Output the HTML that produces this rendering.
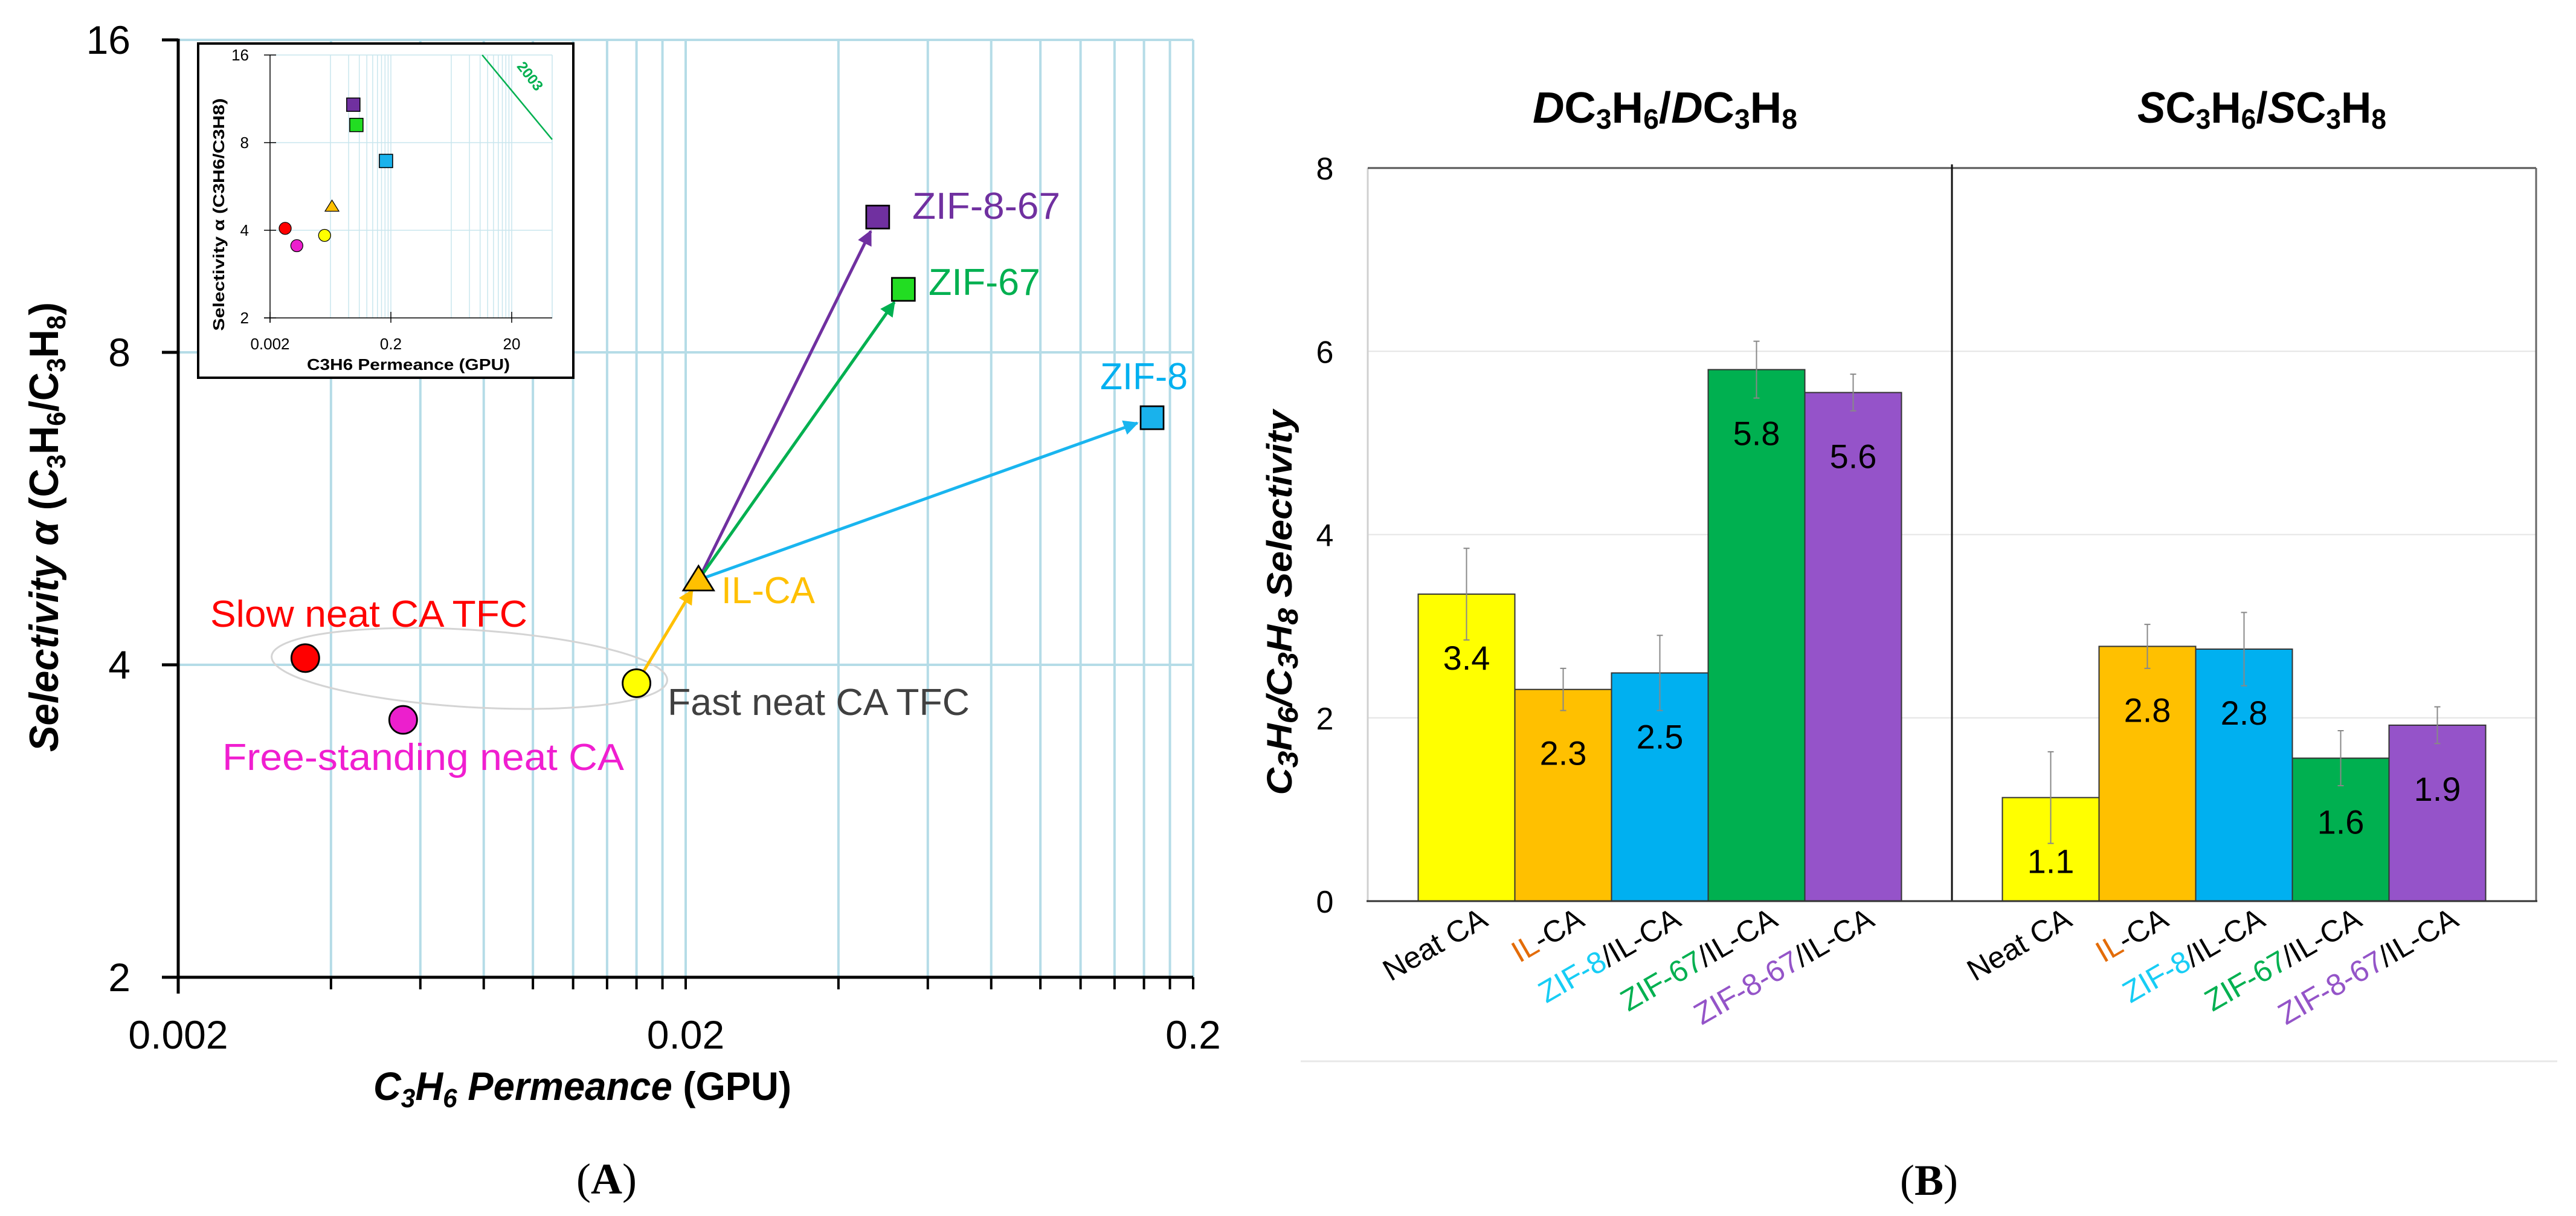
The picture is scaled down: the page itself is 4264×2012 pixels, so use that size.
<!DOCTYPE html>
<html><head><meta charset="utf-8"><style>
html,body{margin:0;padding:0;background:#fff;}
svg{display:block;font-family:"Liberation Sans",sans-serif;}
</style></head><body>
<svg id="fig" width="4264" height="2012" viewBox="0 0 4264 2012" xmlns="http://www.w3.org/2000/svg">
<g id="panelA"></g>
<g id="panelB"></g>
</svg>
<script>
// ---------- Panel A data ----------
const pointNames = ["Slow neat CA TFC","Free-standing neat CA","Fast neat CA TFC","IL-CA","ZIF-8-67","ZIF-67","ZIF-8"];
const permeance = [0.00356, 0.00555, 0.0160, 0.0212, 0.0478, 0.0537, 0.166];
const selectivity = [4.06, 3.54, 3.84, 4.83, 10.8, 9.2, 6.92];
const xTickLabels = ["0.002","0.02","0.2"];
const yTickLabels = ["2","4","8","16"];
const insetXTickLabels = ["0.002","0.2","20"];
const upperBoundX = [6.5, 93.5];
const upperBoundY = [16, 8.2];
// ---------- Panel B data ----------
const barCategories = ["Neat CA","IL-CA","ZIF-8/IL-CA","ZIF-67/IL-CA","ZIF-8-67/IL-CA"];
const groupTitles = ["D","S"];
const diffSelectivity = [3.35, 2.31, 2.49, 5.80, 5.55];
const diffError = [0.50, 0.23, 0.41, 0.31, 0.20];
const diffLabels = ["3.4","2.3","2.5","5.8","5.6"];
const solSelectivity = [1.13, 2.78, 2.75, 1.56, 1.92];
const solError = [0.50, 0.24, 0.40, 0.30, 0.20];
const solLabels = ["1.1","2.8","2.8","1.6","1.9"];
const barYTicks = [0,2,4,6,8];

const NS="http://www.w3.org/2000/svg";
function mk(tag, attrs, parent){const e=document.createElementNS(NS,tag);for(const k in attrs)e.setAttribute(k,attrs[k]);parent.appendChild(e);return e;}

// ===== Panel A =====
const A=document.getElementById('panelA');
const AX0=295, AX1=1975, AY0=1617, AY1=66;
const xA=v=>AX0+(Math.log10(v)-Math.log10(0.002))/2*(AX1-AX0);
const yA=v=>AY0-(Math.log2(v)-1)/3*(AY0-AY1);
const grid=mk('g',{},A);


[0.002,0.02].forEach(base=>{for(let k=2;k<=10;k++){const x=xA(base*k);
  mk('line',{x1:x,y1:AY1,x2:x,y2:AY0,stroke:'#b5dce7','stroke-width':4},grid);
  mk('line',{x1:x,y1:AY0,x2:x,y2:AY0+20,stroke:'#000','stroke-width':4},A);}});
[4,8,16].forEach(v=>{const y=yA(v);mk('line',{x1:AX0,y1:y,x2:AX1,y2:y,stroke:'#b5dce7','stroke-width':4},grid);
  mk('line',{x1:AX0-27,y1:y,x2:AX0,y2:y,stroke:'#000','stroke-width':5},A);});
const axA=mk('g',{},A);


mk('line',{x1:AX0,y1:AY1-2,x2:AX0,y2:AY0+27,stroke:'#000','stroke-width':5},axA);
mk('line',{x1:AX0-27,y1:AY0,x2:AX1,y2:AY0,stroke:'#000','stroke-width':5},axA);
xTickLabels.forEach((t,i)=>{const e=mk('text',{x:xA(0.002*Math.pow(10,i)),y:1735,'font-size':66,'text-anchor':'middle'},A);e.textContent=t;
  
  });
yTickLabels.forEach((t,i)=>{const e=mk('text',{x:216,y:yA(2*Math.pow(2,i))+23,'font-size':66,'text-anchor':'end'},A);e.textContent=t;
  
  });

// ellipse
const ell=mk('ellipse',{cx:777,cy:1106,rx:328,ry:64,fill:'none',stroke:'#d4d4d4','stroke-width':3,transform:'rotate(3.5 777 1106)'},A);



// arrows
const defs=mk('defs',{},A);
const arrowCols=['#ffc000','#7030a0','#00b050','#19b5ef'];
arrowCols.forEach((c,i)=>{const m=mk('marker',{id:'ah'+i,viewBox:'0 0 10 10',refX:9,refY:5,markerWidth:5,markerHeight:5,orient:'auto'},defs);mk('path',{d:'M0,0 L10,5 L0,10 z',fill:c},m);});
const arrowPairs=[[2,3,0],[3,4,1],[3,5,2],[3,6,3]];
arrowPairs.forEach(([f,t,c])=>{let x1=xA(permeance[f]),y1=yA(selectivity[f]),x2=xA(permeance[t]),y2=yA(selectivity[t]);
  const dx=x2-x1,dy=y2-y1,L=Math.hypot(dx,dy);const s0=(f===3?8:24)/L, s1=(t===3?20:26)/L;
  const a=mk('line',{x1:x1+dx*s0,y1:y1+dy*s0,x2:x2-dx*s1,y2:y2-dy*s1,stroke:arrowCols[c],'stroke-width':5,'marker-end':'url(#ah'+c+')'},A);
  
  });

const fills=['#ff0000','#ec1fcd','#ffff00','#ffc000','#7030a0','#22dd22','#19b2ec'];
const shapes=['c','c','c','t','s','s','s'];
function marker(i,x,y,r,parent,name){let e;
  if(shapes[i]==='c')e=mk('circle',{cx:x,cy:y,r:r,fill:fills[i],stroke:'#000','stroke-width':r/8},parent);
  else if(shapes[i]==='s')e=mk('rect',{x:x-r,y:y-r,width:2*r,height:2*r,fill:fills[i],stroke:'#000','stroke-width':r/7},parent);
  else e=mk('polygon',{points:`${x},${y-r*1.05} ${x+r*1.15},${y+r*0.8} ${x-r*1.15},${y+r*0.8}`,fill:fills[i],stroke:'#000','stroke-width':r/8},parent);
  
  }
pointNames.forEach((n,i)=>marker(i,xA(permeance[i]),yA(selectivity[i]),shapes[i]==='s'?19:(shapes[i]==='t'?22:23),A,'point-'+n.toLowerCase().replace(/[^a-z0-9]+/g,'-')));

const ptLabels=[["Slow neat CA TFC",348,1037,'#ff0000',525],["Free-standing neat CA",368,1274,'#f01ed0',665],["Fast neat CA TFC",1105,1183,'#404040',500],["IL-CA",1194,998,'#ffc000',155],["ZIF-8-67",1510,362,'#7030a0',245],["ZIF-67",1537,488,'#00b050',185],["ZIF-8",1821,644,'#00b0f0',145]];
ptLabels.forEach(l=>{const e=mk('text',{x:l[1],y:l[2],'font-size':62,fill:l[3],textLength:l[4],lengthAdjust:'spacingAndGlyphs'},A);e.textContent=l[0];
  
  });

// axis titles A
const yt=mk('text',{x:0,y:0,'font-size':68,'font-weight':'bold','font-style':'italic','text-anchor':'middle',transform:'translate(96 872) rotate(-90)',textLength:744,lengthAdjust:'spacingAndGlyphs'},A);
yt.innerHTML='Selectivity α <tspan font-style="normal">(C<tspan font-size="44" dy="12">3</tspan><tspan dy="-12">H</tspan><tspan font-size="44" dy="12">6</tspan><tspan dy="-12">/C</tspan><tspan font-size="44" dy="12">3</tspan><tspan dy="-12">H</tspan><tspan font-size="44" dy="12">8</tspan><tspan dy="-12">)</tspan></tspan>';


const xt=mk('text',{x:964,y:1820,'font-size':66,'font-weight':'bold','text-anchor':'middle',textLength:692,lengthAdjust:'spacingAndGlyphs'},A);
xt.innerHTML='<tspan font-style="italic">C<tspan font-size="44" dy="12">3</tspan><tspan dy="-12">H</tspan><tspan font-size="44" dy="12">6</tspan><tspan dy="-12"> Permeance</tspan></tspan> (GPU)';


const la=mk('text',{x:1004,y:1975,'font-size':72,'font-family':'Liberation Serif, serif','text-anchor':'middle'},A);
la.innerHTML='(<tspan font-weight="bold">A</tspan>)';



// inset
const I=mk('g',{},A);


mk('rect',{x:328,y:72,width:621,height:553,fill:'#fff',stroke:'#000','stroke-width':4},I);
const IX0=447,IX1=914,IY0=526,IY1=91,IDEC=100;
const xI=v=>IX0+(Math.log10(v)-Math.log10(0.002))*IDEC;
const yI=v=>IY0-(Math.log2(v)-1)/3*(IY0-IY1);
[0.02,2].forEach(base=>{for(let k=1;k<=10;k++){const x=xI(base*k);if(x>IX1+1)continue;mk('line',{x1:x,y1:IY1,x2:x,y2:IY0,stroke:'#c9e6ee','stroke-width':1.5},I);}});
[0.002,0.2,20].forEach(v=>{const x=xI(v);mk('line',{x1:x,y1:IY0-10,x2:x,y2:IY0+8,stroke:'#000','stroke-width':1.5},I);});
mk('line',{x1:IX1,y1:IY1,x2:IX1,y2:IY0,stroke:'#c9e6ee','stroke-width':1.5},I);
[4,8,16].forEach(v=>mk('line',{x1:IX0,y1:yI(v),x2:IX1,y2:yI(v),stroke:'#c9e6ee','stroke-width':1.5},I));
[2,4,8,16].forEach(v=>mk('line',{x1:IX0-10,y1:yI(v),x2:IX0+10,y2:yI(v),stroke:'#000','stroke-width':1.5},I));
mk('line',{x1:IX0,y1:IY1,x2:IX0,y2:IY0+8,stroke:'#000','stroke-width':1.5},I);
mk('line',{x1:IX0-10,y1:IY0,x2:IX1,y2:IY0,stroke:'#000','stroke-width':1.5},I);
insetXTickLabels.forEach((t,i)=>{const e=mk('text',{x:xI(0.002*Math.pow(100,i)),y:578,'font-size':26,'text-anchor':'middle'},I);e.textContent=t;
  
  });
yTickLabels.forEach((t,i)=>{const e=mk('text',{x:412,y:yI(2*Math.pow(2,i))+9,'font-size':26,'text-anchor':'end'},I);e.textContent=t;
  
  });
const ub=mk('line',{x1:xI(upperBoundX[0]),y1:yI(upperBoundY[0]),x2:xI(upperBoundX[1]),y2:yI(upperBoundY[1]),stroke:'#00b050','stroke-width':2.5},I);


const ubt=mk('text',{x:0,y:0,'font-size':24,'font-weight':'bold',fill:'#00b050','text-anchor':'middle',transform:'translate(871 131) rotate(52)'},I);ubt.textContent='2003';


pointNames.forEach((n,i)=>marker(i,xI(permeance[i]),yI(selectivity[i]),shapes[i]==='s'?11:10,I,'inset-point-'+n.toLowerCase().replace(/[^a-z0-9]+/g,'-')));
const ixt=mk('text',{x:676,y:612,'font-size':26,'font-weight':'bold','text-anchor':'middle',textLength:336,lengthAdjust:'spacingAndGlyphs'},I);ixt.textContent='C3H6 Permeance (GPU)';


const iyt=mk('text',{x:0,y:0,'font-size':26,'font-weight':'bold','text-anchor':'middle',transform:'translate(371 355) rotate(-90)',textLength:385,lengthAdjust:'spacingAndGlyphs'},I);iyt.textContent='Selectivity α (C3H6/C3H8)';



// ===== Panel B =====
const B=document.getElementById('panelB');
const BX0=2264,BX1=4198,BY0=1491,BY1=278;
const yB=v=>BY0-v/8*(BY0-BY1);
const GW=(BX1-BX0)/2, BW=160, GPAD=(GW-BW*barCategories.length)/2;
const xB=(g,i)=>BX0+g*GW+GPAD+i*BW;
barYTicks.forEach(v=>{const y=yB(v);
  if(v>0&&v<8)mk('line',{x1:BX0,y1:y,x2:BX1,y2:y,stroke:'#e4e4e4','stroke-width':2},B);
  const e=mk('text',{x:2193,y:y+19,'font-size':52,'text-anchor':'middle'},B);e.textContent=v;
  
  });
mk('line',{x1:BX0,y1:BY1,x2:BX0,y2:BY0,stroke:'#d0d0d0','stroke-width':3},B);
mk('line',{x1:BX0,y1:BY1,x2:BX1,y2:BY1,stroke:'#555','stroke-width':3},B);
mk('line',{x1:BX1,y1:BY1,x2:BX1,y2:BY0,stroke:'#666','stroke-width':3},B);
const div=mk('line',{x1:BX0+GW,y1:BY1-6,x2:BX0+GW,y2:BY0,stroke:'#111','stroke-width':3},B);


const barCols=['#ffff00','#ffc000','#00b0f0','#00b050','#9553c9'];
const groups=[[diffSelectivity,diffError,diffLabels],[solSelectivity,solError,solLabels]];
const catParts=[[['Neat CA','#000']],[['IL','#e36c09'],['-CA','#000']],[['ZIF-8','#17cdf5'],['/IL-CA','#000']],[['ZIF-67','#00b050'],['/IL-CA','#000']],[['ZIF-8-67','#9454c8'],['/IL-CA','#000']]];
groups.forEach((gd,g)=>{gd[0].forEach((v,i)=>{const x=xB(g,i),y=yB(v);
  const r=mk('rect',{x:x,y:y,width:BW,height:BY0-y,fill:barCols[i],stroke:'#333','stroke-width':2},B);
  
  
  const cx=x+BW/2,e1=yB(v+gd[1][i]),e2=yB(v-gd[1][i]);
  const eb=mk('path',{d:`M${cx},${e1}V${e2}M${cx-5},${e1}H${cx+5}M${cx-5},${e2}H${cx+5}`,stroke:'#888','stroke-width':2,fill:'none'},B);
  
  
  const t=mk('text',{x:cx,y:y+125,'font-size':56,'text-anchor':'middle'},B);t.textContent=gd[2][i];
  
  
  const ct=mk('text',{x:0,y:0,'font-size':50,'text-anchor':'end',transform:`translate(${cx+38} 1530) rotate(-30)`},B);
  catParts[i].forEach(p=>{const s=mk('tspan',{fill:p[1]},ct);s.textContent=p[0];});
  
  
 });});
mk('line',{x1:BX0-2,y1:BY0,x2:BX1+2,y2:BY0,stroke:'#333','stroke-width':3},B);
const sub=(a)=>`<tspan font-size="46" dy="10">${a}</tspan><tspan dy="-10">`;
groupTitles.forEach((L,g)=>{const t=mk('text',{x:g?3744:2756,y:203,'font-size':72,'font-weight':'bold','text-anchor':'middle',textLength:g?412:438,lengthAdjust:'spacingAndGlyphs'},B);
  t.innerHTML=`<tspan font-style="italic">${L}</tspan>C${sub(3)}H</tspan>${sub(6)}/</tspan><tspan font-style="italic">${L}</tspan>C${sub(3)}H</tspan>${sub(8)}</tspan>`;
  
  });
const byt=mk('text',{x:0,y:0,'font-size':58,'font-weight':'bold','font-style':'italic','text-anchor':'middle',transform:'translate(2138 997) rotate(-90)',textLength:637,lengthAdjust:'spacingAndGlyphs'},B);
byt.innerHTML=`C${sub(3)}H</tspan>${sub(6)}/C</tspan>${sub(3)}H</tspan>${sub(8)} Selectivity</tspan>`;


const sep=mk('line',{x1:2153,y1:1756,x2:4233,y2:1756,stroke:'#e8e8e8','stroke-width':3},B);


const lb=mk('text',{x:3193,y:1977,'font-size':72,'font-family':'Liberation Serif, serif','text-anchor':'middle'},B);
lb.innerHTML='(<tspan font-weight="bold">B</tspan>)';


</script>
</body></html>
